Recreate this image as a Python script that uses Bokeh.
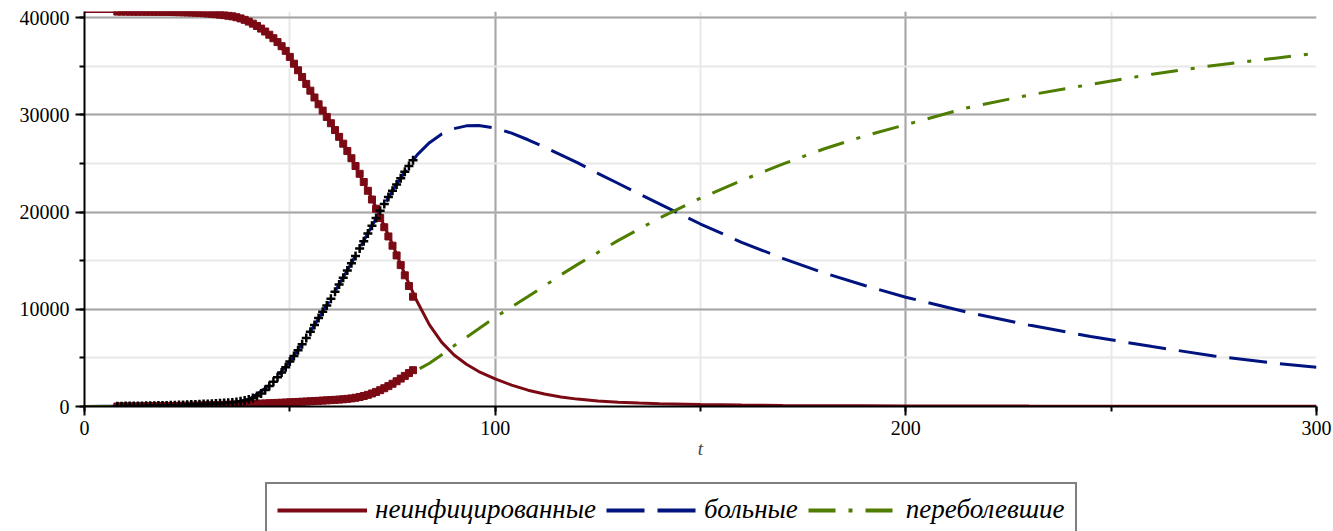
from bokeh.plotting import figure
from bokeh.layouts import column
from bokeh.models import Range1d, SingleIntervalTicker, Legend, LegendItem
from bokeh.embed import file_html
from bokeh.resources import INLINE

# Observed daily counts
days = list(range(8, 81))
s_obs = [40640, 40640, 40638, 40636, 40635, 40632, 40630, 40627, 40624, 40620,
         40616, 40611, 40605, 40598, 40590, 40580, 40568, 40555, 40540, 40522,
         40500, 40475, 40445, 40410, 40370, 40325, 40275, 40215, 40150, 40060,
         39940, 39790, 39610, 39400, 39160, 38890, 38590, 38260, 37900, 37500,
         37080, 36600, 35980, 35280, 34600, 33900, 33200, 32500, 31800, 31100,
         30450, 29800, 29150, 28450, 27750, 27050, 26300, 25550, 24750, 23950,
         23100, 22200, 21300, 20350, 19400, 18450, 17500, 16550, 15550, 14550,
         13500, 12400, 11300]
i_obs = [30, 35, 40, 45, 50, 55, 60, 70, 75, 85,
         95, 105, 115, 125, 140, 150, 165, 180, 195, 210,
         230, 250, 270, 290, 310, 335, 360, 390, 420, 470,
         540, 620, 730, 880, 1080, 1350, 1700, 2100, 2550, 3000,
         3500, 4050, 4620, 5200, 5800, 6400, 7050, 7700, 8400, 9100,
         9750, 10400, 11100, 11800, 12550, 13250, 14000, 14750, 15500, 16250,
         17000, 17800, 18600, 19400, 20150, 20850, 21550, 22200, 22850, 23500,
         24150, 24750, 25350]
r_obs = [0, 2, 4, 6, 8, 10, 13, 16, 20, 24,
         28, 33, 38, 44, 50, 57, 64, 72, 80, 89,
         98, 108, 118, 129, 140, 152, 164, 177, 190, 204,
         218, 233, 248, 264, 280, 297, 314, 332, 350, 369,
         388, 408, 428, 449, 470, 492, 514, 537, 560, 584,
         608, 633, 658, 684, 712, 745, 785, 835, 900, 980,
         1080, 1200, 1340, 1500, 1680, 1880, 2100, 2340, 2600, 2870,
         3150, 3440, 3740]

# Model solution
t_model = [0, 5, 10, 15, 20, 25, 30, 35, 40, 45, 50, 55, 60, 65, 70, 75, 78, 81,
           84, 87, 90, 93, 96, 100, 104, 108, 112, 116, 120, 125, 130, 135, 140,
           150, 160, 170, 180, 190, 200, 215, 230, 245, 260, 275, 290, 300]
s_model = [40650, 40648, 40640, 40628, 40606, 40560, 40450, 40230, 39600, 38200,
           36000, 32600, 29200, 25500, 21400, 16700, 13600, 10800, 8400, 6600,
           5300, 4350, 3600, 2850, 2200, 1680, 1280, 980, 760, 560,
           430, 350, 290, 200, 150, 115, 90, 72, 60, 48,
           40, 34, 29, 25, 22, 20]
i_model = [10, 14, 22, 35, 60, 100, 180, 340, 700, 2150,
           4600, 7700, 11100, 14750, 18600, 22200, 24150, 25900, 27150, 28050,
           28600, 28880, 28920, 28650, 28130, 27450, 26700, 25900, 25100, 24000,
           22950, 21900, 20850, 18780, 16900, 15250, 13750, 12450, 11250, 9700,
           8380, 7200, 6170, 5200, 4450, 4040]
r_model = [0, 1, 3, 8, 15, 30, 60, 110, 200, 320,
           440, 560, 680, 850, 1350, 2350, 3000, 3750, 4450, 5330,
           6250, 7130, 8000, 9190, 10250, 11320, 12400, 13550, 14600, 15850,
           17100, 18250, 19400, 21450, 23250, 24950, 26500, 27850, 29000, 30750,
           32050, 33150, 34200, 35100, 35850, 36350]

labels = ["неинфицированные", "больные", "переболевшие"]

RED = "#7b0a14"
BLUE = "#00137f"
GREEN = "#4e7d00"
SERIF = "Liberation Serif"
S_STYLE = dict(line_color=RED)
I_STYLE = dict(line_color=BLUE, line_dash="38 13")
R_STYLE = dict(line_color=GREEN, line_dash="27 13 4 13")

p = figure(width=1333, height=470, output_backend="svg", toolbar_location=None,
           x_range=Range1d(0, 300), y_range=Range1d(0, 40650),
           min_border_left=84, min_border_right=17, min_border_top=11,
           min_border_bottom=64)
p.outline_line_color = None
p.background_fill_color = "white"
p.border_fill_color = "white"

xt = SingleIntervalTicker(interval=100, num_minor_ticks=2)
yt = SingleIntervalTicker(interval=10000, num_minor_ticks=2)
p.xaxis.ticker = xt
p.yaxis.ticker = yt
p.xgrid.ticker = xt
p.ygrid.ticker = yt
for g in (p.xgrid, p.ygrid):
    g.grid_line_color = "#a6a6a6"
    g.grid_line_width = 2
    g.minor_grid_line_color = "#e8e8e8"
    g.minor_grid_line_width = 2

for ax in (p.xaxis, p.yaxis):
    ax.axis_line_color = "black"
    ax.axis_line_width = 2
    ax.major_tick_line_color = "black"
    ax.major_tick_line_width = 2
    ax.minor_tick_line_color = "black"
    ax.minor_tick_line_width = 2
    ax.major_tick_in = 0
    ax.major_tick_out = 9
    ax.minor_tick_in = 0
    ax.minor_tick_out = 5
    ax.major_label_text_font = SERIF
    ax.major_label_text_font_size = "20px"
    ax.major_label_text_color = "black"
p.yaxis.major_label_standoff = 6
p.xaxis.major_label_standoff = 5
p.xaxis.axis_label = "t"
p.xaxis.axis_label_text_font = SERIF
p.xaxis.axis_label_text_font_style = "italic"
p.xaxis.axis_label_text_font_size = "19px"
p.xaxis.axis_label_standoff = 0

# model curves
p.line(t_model, s_model, line_width=3, **S_STYLE)
p.line(t_model, i_model, line_width=3, **I_STYLE)
p.line(t_model, r_model, line_width=3, **R_STYLE)

# observations
p.scatter(days, s_obs, marker="square", size=7, fill_color=RED, line_color=RED)
p.scatter(days, r_obs, marker="square", size=7, fill_color=RED, line_color=RED)
p.scatter(days, i_obs, marker="cross", size=9, line_color="black", line_width=2.5)

# legend strip under the chart (its frame lines up with the chart's frame)
leg = figure(width=1333, height=61, output_backend="svg", toolbar_location=None,
             x_range=Range1d(0, 1), y_range=Range1d(0, 1), min_border=0)
leg.outline_line_color = None
leg.axis.visible = False
leg.grid.visible = False
key_x = [-2, -1]
key_y = [-2, -1]
ks = leg.line(key_x, key_y, line_width=4, **S_STYLE)
ki = leg.line(key_x, key_y, line_width=4, **I_STYLE)
kr = leg.line(key_x, key_y, line_width=4, **R_STYLE)

legend = Legend(items=[LegendItem(label=labels[0], renderers=[ks]),
                       LegendItem(label=labels[1], renderers=[ki]),
                       LegendItem(label=labels[2], renderers=[kr])],
                orientation="horizontal", location=(181, -6),
                glyph_width=90, glyph_height=24, label_standoff=8, spacing=10,
                padding=10, margin=0,
                border_line_color="black", border_line_width=2,
                background_fill_color="white", background_fill_alpha=1,
                label_text_font=SERIF, label_text_font_style="italic",
                label_text_font_size="27px", label_text_color="black")
leg.add_layout(legend, "center")

open("out.html", "w").write(file_html(column(p, leg, spacing=0), INLINE))
